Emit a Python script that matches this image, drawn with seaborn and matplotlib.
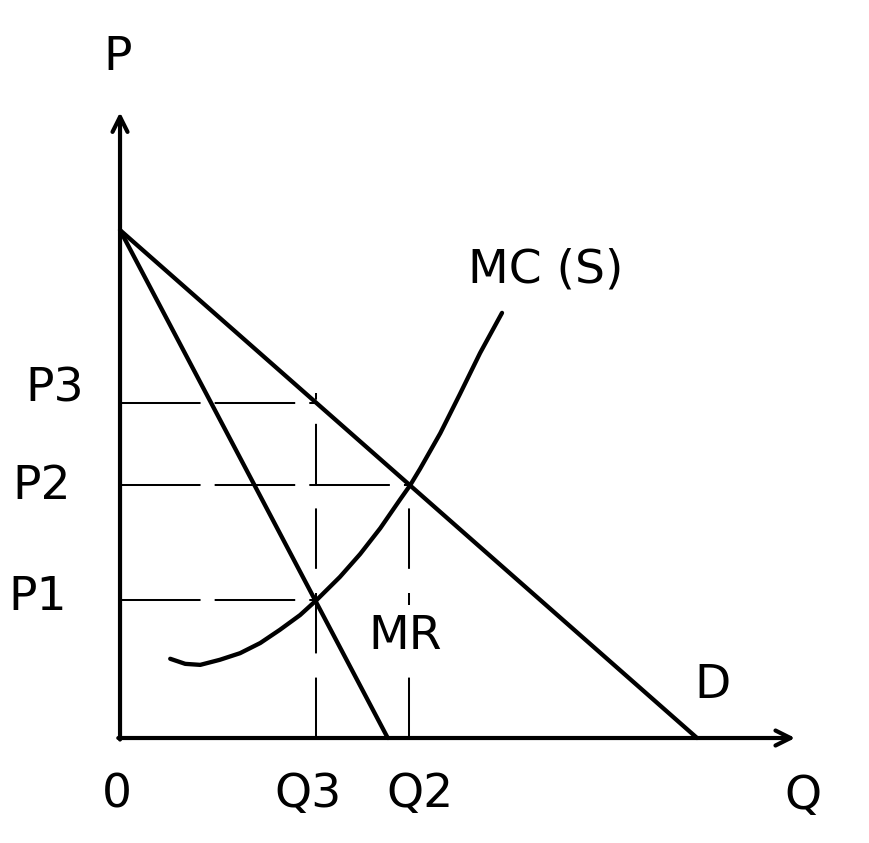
import numpy as np
import pandas as pd
import seaborn as sns
import matplotlib.pyplot as plt

sns.set_theme(style="white")
plt.rcParams['font.family'] = ['DejaVu Sans']

# Demand and marginal revenue (straight lines, quantity / price units)
demand_q = [0.0, 10.0]
demand_p = [10.0, 0.0]
mr_q = [0.0, 4.64]
mr_p = [10.0, 0.0]

# Marginal cost (supply) curve
mc_q = [0.87, 1.13, 1.39, 1.73, 2.08, 2.43, 2.77, 3.12, 3.41, 3.81,
        4.16, 4.51, 4.85, 5.03, 5.20, 5.55, 5.89, 6.24, 6.62]
mc_p = [1.56, 1.46, 1.44, 1.54, 1.67, 1.87, 2.13, 2.42, 2.72, 3.17,
        3.62, 4.13, 4.69, 4.98, 5.30, 6.00, 6.77, 7.58, 8.37]

# Price and quantity levels
q3, q2 = 3.4, 5.0
p1, p2, p3 = 2.72, 4.98, 6.6

curves = pd.concat([
    pd.DataFrame({"Q": demand_q, "P": demand_p, "curve": "D"}),
    pd.DataFrame({"Q": mr_q, "P": mr_p, "curve": "MR"}),
    pd.DataFrame({"Q": mc_q, "P": mc_p, "curve": "MC"}),
])

fig = plt.figure(figsize=(8.69, 8.43), dpi=100)
ax = fig.add_axes([0, 0, 1, 1])
ax.set_xlim(-2.08, 12.98)
ax.set_ylim(-2.067, 14.53)
ax.axis("off")

for name, grp in curves.groupby("curve"):
    sns.lineplot(data=grp, x="Q", y="P", ax=ax, color="black", lw=3.1,
                 sort=False, estimator=None, solid_capstyle="round",
                 solid_joinstyle="round", zorder=3)

# dashed guide lines
h_kw = dict(color="black", lw=1.45, dashes=(40, 7), zorder=2)
v_kw = dict(color="black", lw=1.45, dashes=(30, 12), zorder=2)
ax.plot([0, q3], [p3, p3], **h_kw)
ax.plot([0, q2], [p2, p2], **h_kw)
ax.plot([0, q3], [p1, p1], **h_kw)
ax.plot([q3, q3], [0, p3 + 0.2], **v_kw)
ax.plot([q2, q2], [0, p2], **v_kw)

# axes with open arrow heads
arrow = dict(arrowstyle="->,head_length=0.9,head_width=0.45", lw=3.0, color="black",
             shrinkA=0, shrinkB=0)
ax.annotate("", xy=(0, 12.32), xytext=(0, -0.03), arrowprops=arrow, zorder=4)
ax.annotate("", xy=(11.7, 0), xytext=(-0.03, 0), arrowprops=arrow, zorder=4)

fs = 34
txt = dict(fontsize=fs, ha="center", va="center", color="black")
ax.text(-0.05, 13.39, "P", **txt)
ax.text(11.84, -1.16, "Q", **txt)
ax.text(-0.05, -1.12, "0", **txt)
ax.text(3.26, -1.12, "Q3", **txt)
ax.text(5.2, -1.12, "Q2", **txt)
ax.text(-1.14, 6.87, "P3", **txt)
ax.text(-1.35, 4.96, "P2", **txt)
ax.text(-1.42, 2.76, "P1", **txt)
ax.text(7.38, 9.21, "MC (S)", **txt)
ax.text(4.94, 2.0, "MR", zorder=5,
        bbox=dict(facecolor="white", edgecolor="none", pad=6), **txt)
ax.text(10.26, 1.03, "D", **txt)

fig.savefig("out.png", dpi=100, facecolor="white")
